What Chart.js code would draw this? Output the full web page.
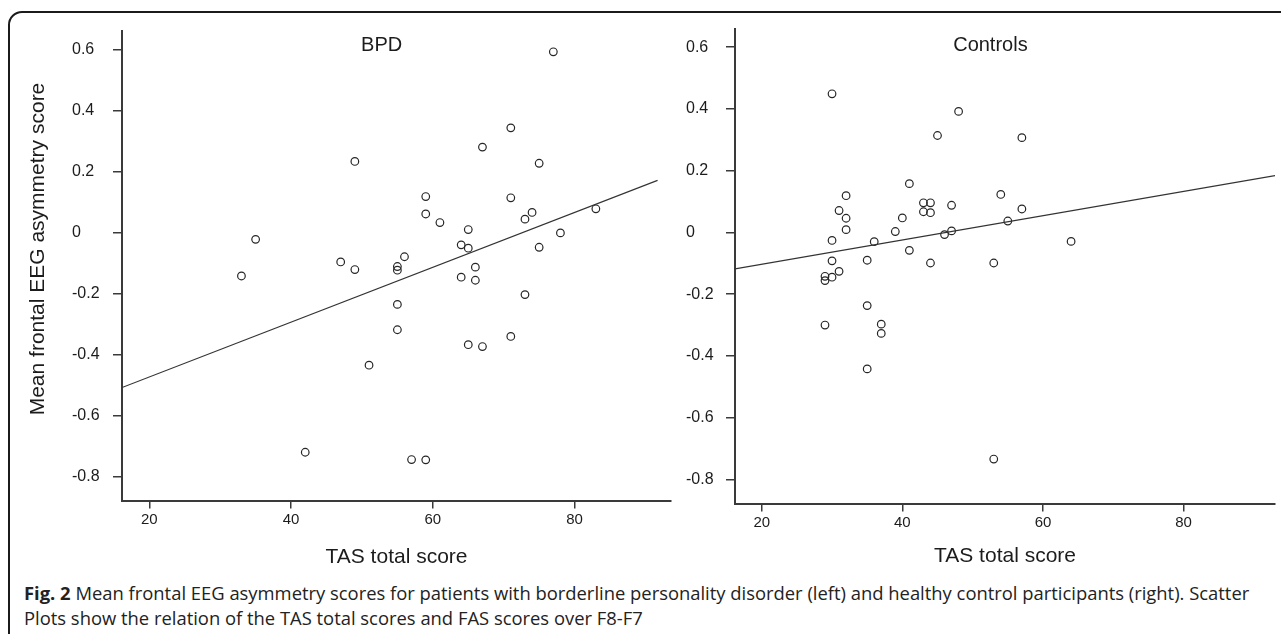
<!DOCTYPE html>
<html>
<head>
<meta charset="utf-8">
<script src="https://cdn.jsdelivr.net/npm/chart.js@4.4.1/dist/chart.umd.min.js"></script>
<style>
  html, body { margin: 0; padding: 0; background: #ffffff; width: 1281px; height: 634px; overflow: hidden; }
  #frame { position: absolute; left: 8px; top: 11px; width: 1340px; height: 720px; border: 2px solid #1b1b1b; border-radius: 14px; box-sizing: border-box; }
  #left { position: absolute; left: 0; top: 0; }
  #right { position: absolute; left: 680px; top: 0; }
  #caption { position: absolute; left: 24px; top: 580px; font-family: "Open Sans", sans-serif; font-size: 18.4px; line-height: 25px; color: #222; white-space: nowrap; }
  #caption b { font-weight: 700; }
</style>
</head>
<body>
<div id="frame"></div>
<canvas id="left" width="680" height="580"></canvas>
<canvas id="right" width="601" height="580"></canvas>
<div id="caption"><b>Fig. 2</b> Mean frontal EEG asymmetry scores for patients with borderline personality disorder (left) and healthy control participants (right). Scatter<br>Plots show the relation of the TAS total scores and FAS scores over F8-F7</div>
<script>
// ---------- data ----------
const tasTicks = [20, 40, 60, 80];
const fasTicks = [-0.8, -0.6, -0.4, -0.2, 0, 0.2, 0.4, 0.6];

const panelNames = ['BPD', 'Controls'];
const xAxisTitle = 'TAS total score';
const yAxisTitle = 'Mean frontal EEG asymmetry score';

// BPD patients: TAS total score (x) and mean frontal asymmetry score (y)
const bpdTAS = [77, 71, 67, 49, 75, 59, 71, 59, 61, 74, 73, 83, 65, 78, 35, 64, 65, 75, 56, 47,
                49, 55, 55, 66, 64, 66, 33, 73, 55, 55, 65, 67, 71, 51, 42, 57, 59];
const bpdFAS = [0.592, 0.343, 0.280, 0.233, 0.227, 0.118, 0.114, 0.061, 0.033, 0.066, 0.044, 0.078,
                0.010, -0.001, -0.022, -0.040, -0.051, -0.048, -0.079, -0.096, -0.121, -0.111,
                -0.123, -0.113, -0.146, -0.156, -0.142, -0.203, -0.235, -0.318, -0.367, -0.373,
                -0.340, -0.434, -0.719, -0.743, -0.744];

// Healthy controls
const ctrlTAS = [30, 48, 45, 57, 41, 32, 54, 43, 44, 47, 31, 43, 44, 57, 32, 40, 55, 32, 39, 47,
                 46, 30, 36, 64, 41, 30, 35, 44, 53, 31, 29, 30, 29, 35, 29, 37, 37, 35, 53];
const ctrlFAS = [0.449, 0.392, 0.314, 0.307, 0.158, 0.119, 0.123, 0.096, 0.096, 0.088, 0.071, 0.067,
                 0.064, 0.076, 0.046, 0.047, 0.037, 0.009, 0.003, 0.005, -0.007, -0.026, -0.030,
                 -0.029, -0.058, -0.092, -0.090, -0.099, -0.099, -0.126, -0.142, -0.145, -0.156,
                 -0.237, -0.300, -0.297, -0.327, -0.442, -0.734];

// Linear fit lines (end points)
const bpdFitTAS = [16.15, 91.7];
const bpdFitFAS = [-0.507, 0.171];
const ctrlFitTAS = [16.2, 93.0];
const ctrlFitFAS = [-0.118, 0.184];

// Axis ranges
const bpdRangeTAS = [16.15, 93.6];
const bpdRangeFAS = [-0.877, 0.661];
const ctrlRangeTAS = [16.2, 93.0];
const ctrlRangeFAS = [-0.878, 0.658];

// ---------- styling ----------
const FONT = '"Liberation Sans", Arial, Helvetica, sans-serif';
const INK = '#1c1c1c';
const AXIS = '#3a3a3a';

const panelTitlePlugin = {
  id: 'panelTitle',
  afterDraw(chart, args, opts) {
    const { ctx, chartArea } = chart;
    ctx.save();
    ctx.font = '20px ' + FONT;
    ctx.fillStyle = INK;
    ctx.textAlign = 'center';
    ctx.textBaseline = 'middle';
    ctx.fillText(opts.text, chartArea.left + chartArea.width * 0.473, opts.y);
    if (opts.yTitle) {
      ctx.translate(opts.yTitleX, opts.yTitleY);
      ctx.rotate(-Math.PI / 2);
      ctx.font = '21px ' + FONT;
      ctx.fillText(opts.yTitle, 0, 0);
    }
    ctx.restore();
  }
};

function makePanel(id, cfg) {
  const points = cfg.tas.map((x, i) => ({ x: x, y: cfg.fas[i] }));
  const fit = cfg.fitX.map((x, i) => ({ x: x, y: cfg.fitY[i] }));
  return new Chart(document.getElementById(id), {
    type: 'scatter',
    data: {
      datasets: [
        {
          type: 'line',
          data: fit,
          borderColor: '#333333',
          borderWidth: 1.1,
          pointRadius: 0,
          fill: false,
          tension: 0
        },
        {
          type: 'scatter',
          data: points,
          pointStyle: 'circle',
          pointRadius: 3.8,
          pointHoverRadius: 3.8,
          pointBorderWidth: 1.2,
          pointBorderColor: '#262626',
          pointBackgroundColor: 'rgba(255,255,255,0)'
        }
      ]
    },
    options: {
      responsive: false,
      animation: false,
      events: [],
      layout: { padding: { left: cfg.padLeft, top: cfg.padTop, right: cfg.padRight, bottom: 0 } },
      plugins: {
        legend: { display: false },
        tooltip: { enabled: false },
        panelTitle: { text: cfg.title, y: 45.5, yTitle: cfg.yTitle, yTitleX: 38, yTitleY: 249 }
      },
      scales: {
        x: {
          type: 'linear',
          position: 'bottom',
          min: cfg.xRange[0],
          max: cfg.xRange[1],
          afterBuildTicks: s => { s.ticks = tasTicks.map(v => ({ value: v })); },
          afterFit: s => { s.height = cfg.xAxisHeight; },
          ticks: {
            autoSkip: false,
            maxRotation: 0,
            padding: 2,
            color: INK,
            font: { family: FONT, size: 15 },
            callback: v => String(v)
          },
          grid: { drawOnChartArea: false, drawTicks: true, tickLength: 8, color: AXIS, lineWidth: 1.5 },
          border: { display: true, color: AXIS, width: 2 },
          title: {
            display: true,
            text: xAxisTitle,
            color: INK,
            font: { family: FONT, size: 21 },
            padding: { top: 0, bottom: cfg.xTitlePad }
          }
        },
        y: {
          type: 'linear',
          position: 'left',
          min: cfg.yRange[0],
          max: cfg.yRange[1],
          afterBuildTicks: s => { s.ticks = fasTicks.map(v => ({ value: v })); },
          afterFit: s => { s.width = cfg.yAxisWidth; },
          ticks: {
            crossAlign: 'far',
            autoSkip: false,
            padding: 4,
            color: INK,
            font: { family: FONT, size: 16 },
            callback: v => String(Math.round(v * 10) / 10)
          },
          grid: { drawOnChartArea: false, drawTicks: true, tickLength: 9, color: AXIS, lineWidth: 1.5 },
          border: { display: true, color: AXIS, width: 2 }
        }
      }
    },
    plugins: [panelTitlePlugin]
  });
}

makePanel('left', {
  tas: bpdTAS, fas: bpdFAS, fitX: bpdFitTAS, fitY: bpdFitFAS,
  xRange: bpdRangeTAS, yRange: bpdRangeFAS,
  title: panelNames[0], yTitle: yAxisTitle,
  padLeft: 72, padTop: 30.7, padRight: 9,
  yAxisWidth: 50, xAxisHeight: 79.5, xTitlePad: 9.7
});

makePanel('right', {
  tas: ctrlTAS, fas: ctrlFAS, fitX: ctrlFitTAS, fitY: ctrlFitFAS,
  xRange: ctrlRangeTAS, yRange: ctrlRangeFAS,
  title: panelNames[1], yTitle: null,
  padLeft: 6, padTop: 29.3, padRight: 6,
  yAxisWidth: 49, xAxisHeight: 76.5, xTitlePad: 11.4
});
</script>
</body>
</html>
